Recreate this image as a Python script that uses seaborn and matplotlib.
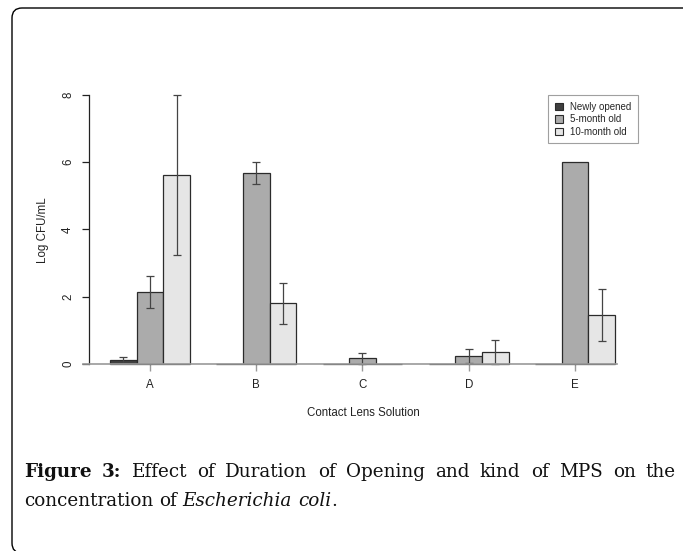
import pandas as pd
import matplotlib
matplotlib.use("Agg")
import matplotlib.pyplot as plt
import seaborn as sns
from matplotlib.patches import FancyBboxPatch

# ------------------------------
# Data
# ------------------------------
solutions = ["A", "B", "C", "D", "E"]
ages = ["Newly opened", "5-month old", "10-month old"]
newly = [0.10, 0.0, 0.0, 0.0, 0.0]
month5 = [2.13, 5.67, 0.16, 0.23, 6.00]
month10 = [5.62, 1.80, 0.0, 0.34, 1.45]
sd_newly = [0.09, 0, 0, 0, 0]
sd_month5 = [0.47, 0.33, 0.16, 0.21, 0]
sd_month10 = [2.37, 0.61, 0, 0.35, 0.78]
colors = ["#404040", "#ababab", "#e6e6e6"]

df = pd.DataFrame({
    "solution": solutions * 3,
    "age": [a for a in ages for _ in solutions],
    "value": newly + month5 + month10,
})

sns.set_style("white")
plt.rcParams["font.family"] = ["Liberation Sans", "DejaVu Sans"]

W, H = 683, 551
fig = plt.figure(figsize=(W / 100, H / 100), dpi=100)
ax = fig.add_axes([89 / W, 1 - 374.4 / H, 546 / W, 290.1 / H])

sns.barplot(data=df, x="solution", y="value", hue="age", hue_order=ages,
            palette=colors, saturation=1, width=0.75, edgecolor="#2b2b2b",
            linewidth=0.9, errorbar=None, ax=ax)

# error bars (SD)
offsets = [-0.25, 0, 0.25]
for k, (vals, sds) in enumerate([(newly, sd_newly), (month5, sd_month5), (month10, sd_month10)]):
    for i, (v, s) in enumerate(zip(vals, sds)):
        if s > 0:
            ax.errorbar(i + offsets[k], v, yerr=s, fmt="none", ecolor="#444444",
                        elinewidth=0.9, capsize=3, capthick=0.9)

ax.set_xlim(-0.574, 4.565)
ax.set_ylim(-0.32, 8.32)
ax.set_yticks([0, 2, 4, 6, 8])
ax.set_yticklabels(["0", "2", "4", "6", "8"], rotation=90, va="center")

for side in ["top", "right"]:
    ax.spines[side].set_visible(False)
ax.spines["left"].set_bounds(0, 8)
ax.spines["left"].set_color("#222222")
ax.spines["left"].set_linewidth(0.9)
ax.spines["bottom"].set_position(("data", 0))
ax.spines["bottom"].set_bounds(-0.63, 4.395)
ax.spines["bottom"].set_color("#999999")
ax.spines["bottom"].set_linewidth(1.2)

ax.tick_params(axis="x", length=5, width=1.0, color="#999999", pad=6,
               labelsize=8.3, labelcolor="#222222", bottom=True)
ax.tick_params(axis="y", length=4.7, width=0.9, color="#222222", pad=6,
               labelsize=8.3, labelcolor="#222222", left=True)

ax.set_xlabel("Contact Lens Solution", fontsize=8.3, color="#222222")
ax.xaxis.set_label_coords(0.502, -0.133)
ax.xaxis.label.set_va("center")
ax.set_ylabel("Log CFU/mL", fontsize=8.3, color="#222222")
ax.yaxis.set_label_coords(-0.084, 0.498)
ax.yaxis.label.set_va("center")

handles, labels = ax.get_legend_handles_labels()
leg = ax.legend(handles, labels, loc="upper left",
                bbox_to_anchor=(548 / W, 1 - 95 / H), bbox_transform=fig.transFigure,
                frameon=True, fancybox=False, edgecolor="#888888", fontsize=7,
                handlelength=0.8, handleheight=0.8, handletextpad=0.8,
                labelspacing=0.25, borderpad=0.7, borderaxespad=0)
leg.get_frame().set_linewidth(0.8)
for h in leg.legend_handles:
    h.set_edgecolor("#2b2b2b")
    h.set_linewidth(0.8)

# rounded frame around the figure
frame = FancyBboxPatch((0.12, -0.02), 7.0, 5.45, boxstyle="round,pad=0,rounding_size=0.1",
                       transform=fig.dpi_scale_trans, facecolor="none",
                       edgecolor="black", linewidth=1.0)
fig.patches.append(frame)

# ------------------------------
# Caption
# ------------------------------
cap_size = 13.2
cap_font = "DejaVu Serif"
renderer = fig.canvas.get_renderer()


def place_words(words, x0, y_base, x1=None):
    texts = []
    for w, wt, st in words:
        t = fig.text(0, 1 - y_base / H, w, fontsize=cap_size, family=cap_font,
                     weight=wt, style=st, va="baseline", ha="left", color="#111111")
        texts.append(t)
    widths = [t.get_window_extent(renderer).width for t in texts]
    if x1 is None:
        gaps = [cap_size * 100 / 72 * 0.318] * (len(words) - 1)
    else:
        g = (x1 - x0 - sum(widths)) / (len(words) - 1)
        gaps = [g] * (len(words) - 1)
    x = x0
    for i, t in enumerate(texts):
        t.set_x(x / W)
        x += widths[i] + (gaps[i] if i < len(gaps) else 0)
    return texts


line1 = [("Figure", "bold", "normal"), ("3:", "bold", "normal")] + \
        [(w, "normal", "normal") for w in "Effect of Duration of Opening and kind of MPS on the".split()]
place_words(line1, 24, 476.7, 676)

line2 = [("concentration", "normal", "normal"), ("of", "normal", "normal"),
         ("Escherichia", "normal", "italic"), ("coli", "normal", "italic")]
t2 = place_words(line2, 24, 505.7)
last = t2[-1]
bb = last.get_window_extent(renderer)
fig.text(bb.x1 / W, 1 - 505.7 / H, ".", fontsize=cap_size, family=cap_font,
         va="baseline", ha="left", color="#111111")

fig.savefig("out.png", dpi=100)
